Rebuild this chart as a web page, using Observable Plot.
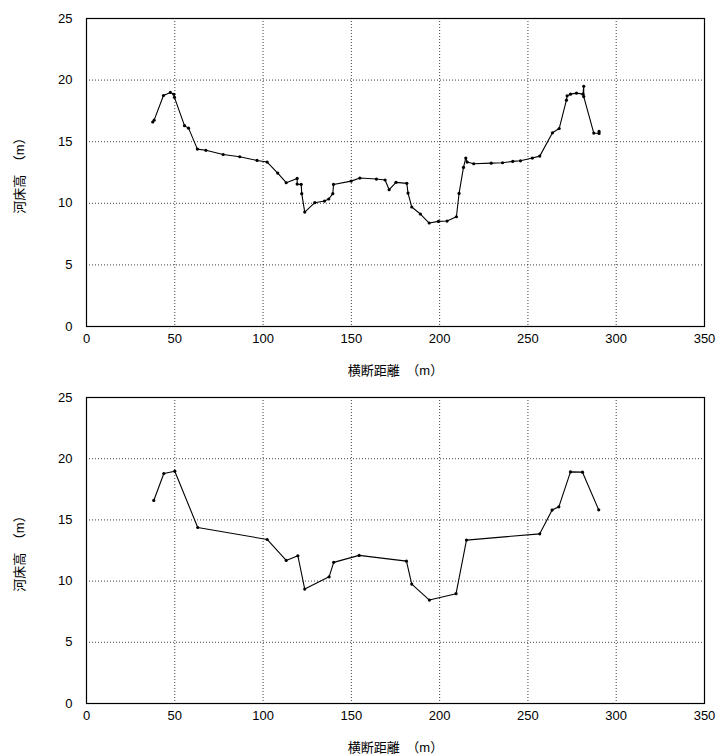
<!DOCTYPE html>
<html>
<head>
<meta charset="utf-8">
<script src="https://cdn.jsdelivr.net/npm/d3@7"></script>
<script src="https://cdn.jsdelivr.net/npm/@observablehq/plot@0.6"></script>
<style>
  html, body { margin: 0; padding: 0; background: #fff; }
  #chart svg { display: block; }
</style>
</head>
<body>
<div id="chart"></div>
<script>
// ---- data ----
const xTicks = [0, 50, 100, 150, 200, 250, 300, 350];
const yTicks = [0, 5, 10, 15, 20, 25];
const xTitle = "横断距離　（m）";
const yTitle = "河床高　（m）";

// top panel: detailed survey
const topDist = [37.5, 38.3, 43.6, 47.5, 49.5, 49.8, 55.5, 57.8, 62.8, 67.6, 77.4, 86.8, 96.6, 102.3, 108.3, 113.1, 119.3, 119.3, 121.6, 121.9, 123.6, 129.3, 134.8, 137.2, 139.5, 139.9, 149.9, 154.8, 164.2, 169.1, 171.4, 175.3, 181.4, 182.1, 184.2, 189.1, 194.1, 199.3, 204.2, 209.5, 211.0, 213.5, 214.8, 215.6, 219.3, 229.2, 235.6, 241.4, 245.8, 252.5, 256.7, 263.9, 267.7, 271.8, 272.2, 274.1, 277.5, 281.2, 281.6, 281.6, 287.3, 290.3, 290.3];
const topElev = [16.6, 16.75, 18.75, 19.0, 18.85, 18.6, 16.3, 16.1, 14.4, 14.3, 13.96, 13.78, 13.48, 13.35, 12.45, 11.67, 12.02, 11.56, 11.53, 10.78, 9.29, 10.05, 10.18, 10.35, 10.78, 11.53, 11.8, 12.05, 11.97, 11.89, 11.1, 11.7, 11.62, 10.83, 9.7, 9.13, 8.4, 8.53, 8.56, 8.91, 10.8, 12.91, 13.67, 13.35, 13.21, 13.26, 13.29, 13.4, 13.45, 13.67, 13.83, 15.72, 16.07, 18.37, 18.72, 18.86, 18.94, 18.86, 19.5, 18.66, 15.7, 15.67, 15.83];

// bottom panel: simplified section
const botDist = [38.1, 43.8, 50.0, 63.0, 102.3, 113.1, 119.7, 123.6, 137.4, 140.0, 154.4, 181.2, 184.2, 194.2, 209.3, 215.2, 256.7, 263.7, 267.5, 274.1, 280.9, 290.1];
const botElev = [16.59, 18.79, 18.98, 14.38, 13.4, 11.69, 12.07, 9.35, 10.35, 11.53, 12.1, 11.63, 9.76, 8.45, 8.97, 13.35, 13.86, 15.8, 16.07, 18.92, 18.9, 15.82];

const FONT = "'Liberation Sans', 'Noto Sans CJK JP', sans-serif";

function panel(dist, elev, opts) {
  const data = dist.map((d, i) => ({x: d, y: elev[i]}));
  return Plot.plot({
    width: 723,
    height: opts.height,
    marginLeft: 86,
    marginRight: 19,
    marginTop: opts.marginTop,
    marginBottom: opts.marginBottom,
    style: {fontFamily: FONT, fontSize: "13px", color: "#000", background: "#fff"},
    x: {domain: [0, 350]},
    y: {domain: [0, 25]},
    marks: [
      Plot.gridX(xTicks.slice(1, -1), {stroke: "#000", strokeOpacity: 0.75, strokeDasharray: "1,2"}),
      Plot.gridY(yTicks.slice(1, -1), {stroke: "#000", strokeOpacity: 0.75, strokeDasharray: "1,2"}),
      Plot.axisX(xTicks, {tickSize: 0, tickPadding: 7, fontSize: 13, label: xTitle, labelAnchor: "center", labelOffset: opts.xLabelOffset, labelArrow: "none"}),
      Plot.axisY(yTicks, {tickSize: 0, tickPadding: 14, fontSize: 13, label: yTitle, labelAnchor: "center", labelOffset: 72, labelArrow: "none"}),
      Plot.frame({stroke: "#000", strokeWidth: 1.2}),
      Plot.line(data, {x: "x", y: "y", stroke: "#000", strokeWidth: 1.1}),
      Plot.dot(data, {x: "x", y: "y", r: 1.6, fill: "#000", stroke: "none"})
    ]
  });
}

const chart = document.getElementById("chart");
chart.appendChild(panel(topDist, topElev, {height: 385, marginTop: 18, marginBottom: 59, xLabelOffset: 48}));
chart.appendChild(panel(botDist, botElev, {height: 369, marginTop: 12, marginBottom: 51, xLabelOffset: 48}));
</script>
</body>
</html>
